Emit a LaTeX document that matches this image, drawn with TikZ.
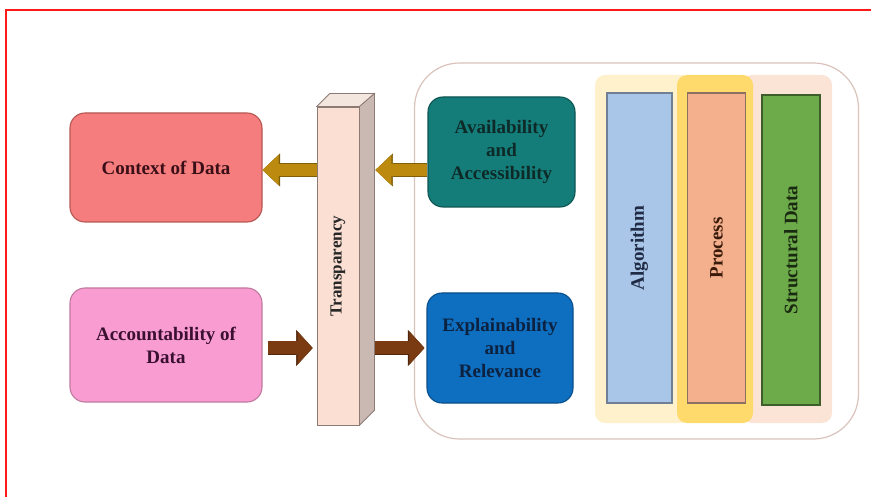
\documentclass[tikz,border=0pt]{standalone}
\usepackage{fontspec}
\setmainfont{Liberation Serif}
\usetikzlibrary{arrows.meta,calc}
\definecolor{ctxfill}{HTML}{F57D7D}
\definecolor{ctxline}{HTML}{B65752}
\definecolor{ctxtext}{HTML}{3A0F17}
\definecolor{accfill}{HTML}{F89CD2}
\definecolor{accline}{HTML}{C07A9E}
\definecolor{acctext}{HTML}{3A1030}
\definecolor{avfill}{HTML}{147D79}
\definecolor{avline}{HTML}{0C5452}
\definecolor{avtext}{HTML}{0E2A28}
\definecolor{exfill}{HTML}{0E6EBF}
\definecolor{exline}{HTML}{0A4E8A}
\definecolor{extext}{HTML}{0C2240}
\definecolor{pilfront}{HTML}{FADFD2}
\definecolor{pilside}{HTML}{C9B9B2}
\definecolor{piltop}{HTML}{F3E6DE}
\definecolor{pilline}{HTML}{8C7B74}
\definecolor{contline}{HTML}{D9C3BB}
\definecolor{colyel}{HTML}{FFF1CC}
\definecolor{colgold}{HTML}{FEDA6C}
\definecolor{colpeach}{HTML}{FBE3D5}
\definecolor{algfill}{HTML}{A9C5E7}
\definecolor{algline}{HTML}{6F7F95}
\definecolor{algtext}{HTML}{1F2A44}
\definecolor{prfill}{HTML}{F4B08D}
\definecolor{prline}{HTML}{8A7060}
\definecolor{prtext}{HTML}{3A1A0A}
\definecolor{stfill}{HTML}{6CAA4A}
\definecolor{stline}{HTML}{3D5E2A}
\definecolor{sttext}{HTML}{1A2A10}
\definecolor{goldarr}{HTML}{BB8A0E}
\definecolor{goldedge}{HTML}{7F5F08}
\definecolor{brownarr}{HTML}{7A3B12}
\definecolor{brownedge}{HTML}{4F260B}
\definecolor{frame}{HTML}{FF1A1A}
\tikzset{
  x=1pt, y=-1pt,
  lab/.style={font=\bfseries\fontsize{19}{23}\selectfont, align=center},
  colbox/.style={rounded corners=15pt, line width=1.1pt, lab, inner sep=0pt},
  bar/.style={line width=1.1pt, inner sep=0pt, minimum height=310pt},
  vlab/.style={rotate=90, font=\bfseries\fontsize{19}{23}\selectfont},
  goldarrow/.style={draw=goldarr, line width=12pt, -{Triangle[length=16pt,width=30pt,line width=0.5pt]},
    preaction={draw=goldedge, line width=13.6pt, -{Triangle[length=17.5pt,width=33pt,line width=0.5pt]}}},
  brownarrow/.style={draw=brownarr, line width=13pt, -{Triangle[length=15pt,width=33pt,line width=0.5pt]},
    preaction={draw=brownedge, line width=14.6pt, -{Triangle[length=16.5pt,width=36pt,line width=0.5pt]}}},
}
\begin{document}
\begin{tikzpicture}
\useasboundingbox (0,0) rectangle (871,497);
% page frame
\draw[frame, line width=1.8pt] (6,505) -- (6,10) -- (880,10);

% left boxes
\node[colbox, fill=ctxfill, draw=ctxline, text=ctxtext, minimum width=192pt, minimum height=109pt] (ctx) at (166,167.5) {Context of Data};
\node[colbox, fill=accfill, draw=accline, text=acctext, minimum width=192pt, minimum height=114pt] (acc) at (166,345) {Accountability of\\Data};

% container
\node[draw=contline, fill=white, line width=1.2pt, rounded corners=45pt, minimum width=444pt, minimum height=376pt] (cont) at (636.5,251) {};

% background columns
\fill[colpeach, rounded corners=10pt] (742,75) rectangle (832,423);
\fill[colyel, rounded corners=10pt] (595,75) rectangle (692,423);
\fill[colgold, rounded corners=10pt] (677,75) rectangle (753,423);

% bars
\node[bar, fill=algfill, draw=algline, minimum width=65pt] (alg) at (639.5,248) {};
\node[vlab, text=algtext] (algl) at (alg.center) {Algorithm};
\node[bar, fill=prfill, draw=prline, minimum width=58pt] (proc) at (716.5,248) {};
\node[vlab, text=prtext] (procl) at (proc.center) {Process};
\node[bar, fill=stfill, draw=stline, minimum width=58pt] (st) at (791,250) {};
\node[vlab, text=sttext] (stl) at (st.center) {Structural Data};

% right boxes
\node[colbox, fill=avfill, draw=avline, text=avtext, minimum width=147pt, minimum height=110pt] (av) at (501.5,152) {Availability\\and\\Accessibility};
\node[colbox, fill=exfill, draw=exline, text=extext, minimum width=146pt, minimum height=110pt] (ex) at (500,348) {Explainability\\and\\Relevance};

% transparency pillar
\node[fill=pilfront, draw=pilline, line width=0.8pt, minimum width=42pt, minimum height=318pt, inner sep=0pt] (pil) at (338,266) {};
\fill[piltop, draw=pilline, line width=0.8pt] (pil.north west) -- ++(13,-13) -- ($(pil.north east)+(15,-13)$) -- (pil.north east) -- cycle;
\fill[pilside, draw=pilline, line width=0.8pt] (pil.north east) -- ++(15,-13) -- ($(pil.south east)+(15,-15)$) -- (pil.south east) -- cycle;
\node[rotate=90, font=\bfseries\fontsize{17}{20}\selectfont, text=black!85] (pill) at (pil.center) {Transparency};
\coordinate (pilsd) at ($(pil.east)+(16,0)$);

% arrows
\draw[goldarrow] (pil.west |- 0,170) -- (ctx.east |- 0,170);
\draw[goldarrow] (av.west |- 0,170) -- (pilsd |- 0,170);
\draw[brownarrow] ($(acc.east |- 0,348)+(5,0)$) -- ($(pil.west |- 0,348)+(-4,0)$);
\draw[brownarrow] (pilsd |- 0,348) -- ($(ex.west |- 0,348)+(-2,0)$);
\end{tikzpicture}
\end{document}
